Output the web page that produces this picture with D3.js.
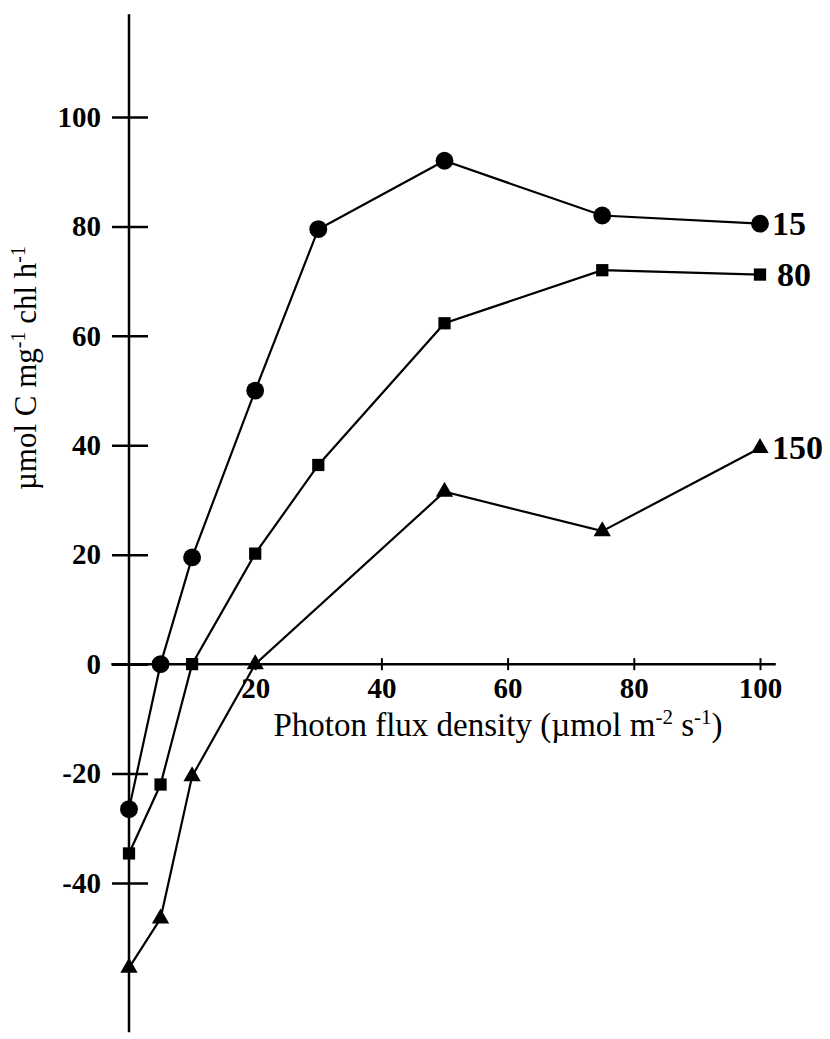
<!DOCTYPE html>
<html>
<head>
<meta charset="utf-8">
<script src="https://cdn.jsdelivr.net/npm/d3@7"></script>
<style>
  body { margin: 0; background: #fff; }
  svg { display: block; }
  .tick text { font-family: "Liberation Serif", "Times New Roman", serif; font-weight: bold; font-size: 29px; fill: #000; }
  .title { font-family: "Liberation Serif", "Times New Roman", serif; font-size: 31px; fill: #000; }
  .series-label { font-family: "Liberation Serif", "Times New Roman", serif; font-weight: bold; font-size: 34px; fill: #000; }
</style>
</head>
<body>
<div id="container"></div>
<script>
// photon flux density, umol m-2 s-1
var fluxValues = [0, 5, 10, 20, 30, 50, 75, 100];

// net carbon fixation for each growth irradiance (15, 80, 150)
var series15 = [-26.5, 0, 19.5, 50, 79.5, 92, 82, 80.5];
var series80 = [-34.6, -22, 0, 20.2, 36.4, 62.3, 72, 71.2];
var series150 = [-55.5, -46.5, -20.5, 0, null, 31.5, 24.3, 39.5];

var seriesNames = ["15", "80", "150"];
var seriesShapes = ["circle", "square", "triangle"];

var xTicks = [20, 40, 60, 80, 100];
var yTicks = [-40, -20, 0, 20, 40, 60, 80, 100];

var width = 830, height = 1039;

var svg = d3.select("#container")
  .append("svg")
  .attr("width", width)
  .attr("height", height);

var x = d3.scaleLinear().domain([0, 100]).range([129, 760]);
var y = d3.scaleLinear().domain([-40, 100]).range([883, 117]);

var plainNum = function (d) { return String(d); };

// y axis: long vertical line with ticks crossing it
var yAxis = svg.append("g")
  .attr("transform", "translate(" + x(0) + ",0)")
  .call(d3.axisLeft(y).tickValues(yTicks).tickFormat(plainNum)
    .tickSizeInner(6).tickSizeOuter(0).tickPadding(22));
yAxis.select(".domain").remove();
yAxis.selectAll(".tick line")
  .attr("x1", -17).attr("x2", 19)
  .attr("stroke", "#000").attr("stroke-width", 2.5);

svg.append("line")
  .attr("x1", x(0)).attr("x2", x(0))
  .attr("y1", y(118.8)).attr("y2", y(-67.3))
  .attr("stroke", "#000").attr("stroke-width", 2.5);

// x axis sits on zero
var xAxis = svg.append("g")
  .attr("transform", "translate(0," + y(0) + ")")
  .call(d3.axisBottom(x).tickValues(xTicks).tickFormat(plainNum)
    .tickSizeInner(6).tickSizeOuter(0).tickPadding(7));
xAxis.select(".domain").remove();
xAxis.selectAll(".tick line")
  .attr("y1", -6).attr("y2", 6)
  .attr("stroke", "#000").attr("stroke-width", 2);

svg.append("line")
  .attr("x1", x(-2.8)).attr("x2", x(102.5))
  .attr("y1", y(0)).attr("y2", y(0))
  .attr("stroke", "#000").attr("stroke-width", 2.5);

// axis titles
var xTitle = svg.append("text")
  .attr("class", "title")
  .attr("x", 498).attr("y", 736)
  .style("font-size", "33px")
  .attr("text-anchor", "middle");
xTitle.append("tspan").text("Photon flux density (\u00b5mol m");
xTitle.append("tspan").attr("dy", -12).style("font-size", "21px").text("-2");
xTitle.append("tspan").attr("dy", 12).text(" s");
xTitle.append("tspan").attr("dy", -12).style("font-size", "21px").text("-1");
xTitle.append("tspan").attr("dy", 12).text(")");

var yTitle = svg.append("text")
  .attr("class", "title")
  .attr("transform", "translate(36,368) rotate(-90)")
  .attr("text-anchor", "middle");
yTitle.append("tspan").text("\u00b5mol C mg");
yTitle.append("tspan").attr("dy", -11).style("font-size", "20px").text("-1");
yTitle.append("tspan").attr("dy", 11).text(" chl h");
yTitle.append("tspan").attr("dy", -11).style("font-size", "20px").text("-1");

// series
var allSeries = [series15, series80, series150];

var line = d3.line()
  .x(function (d) { return x(d.x); })
  .y(function (d) { return y(d.v); });

var symbolFor = {
  circle: d3.symbol().type(d3.symbolCircle).size(250),
  square: d3.symbol().type(d3.symbolSquare).size(150),
  triangle: d3.symbol().type(d3.symbolTriangle).size(130)
};

allSeries.forEach(function (values, i) {
  var pts = fluxValues.map(function (f, j) { return { x: f, v: values[j] }; })
    .filter(function (d) { return d.v !== null; });

  svg.append("path")
    .datum(pts)
    .attr("fill", "none")
    .attr("stroke", "#000")
    .attr("stroke-width", 2.2)
    .attr("d", line);

  svg.append("g").selectAll("path")
    .data(pts)
    .join("path")
    .attr("transform", function (d) { return "translate(" + x(d.x) + "," + y(d.v) + ")"; })
    .attr("d", symbolFor[seriesShapes[i]])
    .attr("fill", "#000");

  var last = pts[pts.length - 1];
  svg.append("text")
    .attr("class", "series-label")
    .attr("x", x(last.x) + (i === 1 ? 17 : 12))
    .attr("y", y(last.v) + 11)
    .text(seriesNames[i]);
});
</script>
</body>
</html>
